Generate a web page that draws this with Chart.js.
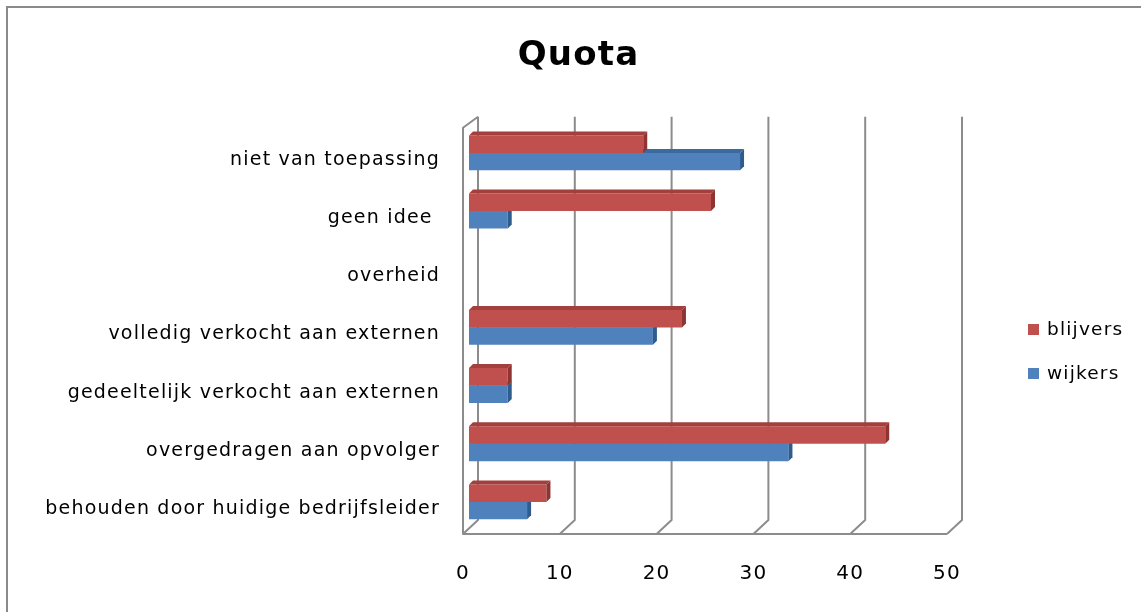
<!DOCTYPE html>
<html>
<head>
<meta charset="utf-8">
<title>Quota</title>
<script src="https://cdn.jsdelivr.net/npm/chart.js@4"></script>
<style>
    body { margin: 0; background: #fff; }
    #wrap { position: relative; width: 1141px; height: 612px; overflow: hidden; }
    #frame {
        position: absolute; left: 6px; top: 6px; right: 0; bottom: 0;
        border-left: 2px solid #8a8a8a; border-top: 2px solid #8a8a8a;
    }
    #myChart { position: absolute; left: 0; top: 0; }
    #legend {
        position: absolute; left: 1028px; top: 307px;
        font-family: "DejaVu Sans", sans-serif; font-size: 18.5px; color: #000;
        letter-spacing: 1.2px;
    }
    #legend div { height: 44px; line-height: 30px; display: flex; align-items: center; }
    #legend span.box { display: inline-block; width: 11px; height: 11px; margin-right: 8px; }
</style>
</head>
<body>
<div id="wrap">
    <div id="frame"></div>
    <canvas id="myChart" width="1141" height="612"></canvas>
    <div id="legend"></div>
</div>
<script>
const categories = [
    "niet van toepassing",
    "geen idee ",
    "overheid",
    "volledig verkocht aan externen",
    "gedeeltelijk verkocht aan externen",
    "overgedragen aan opvolger",
    "behouden door huidige bedrijfsleider"
];
const blijvers = [18, 25, 0, 22, 4, 43, 8];
const wijkers = [28, 4, 0, 19, 4, 33, 6];
const xTicks = [0, 10, 20, 30, 40, 50];

const RED = "#c0504d";
const BLUE = "#4f81bd";
const DARK = { [RED]: "#8e3533", [BLUE]: "#2f5c8f" };
const TOP = { [RED]: "#a33f3c", [BLUE]: "#3a6aa0" };
const FONT = "'DejaVu Sans', sans-serif";
const SPACING = "1.2px";

// fake 3d walls and grid behind the bars, plus depth faces on each bar
const wallPlugin = {
    id: "walls",
    beforeUpdate(chart) {
        chart.ctx.letterSpacing = SPACING;
    },
    beforeDraw(chart) {
        chart.ctx.letterSpacing = SPACING;
    },
    beforeDatasetsDraw(chart) {
        const ctx = chart.ctx;
        const xs = chart.scales.x;
        const area = chart.chartArea;
        const backTop = area.top - 7;
        const backBottom = area.bottom - 11;
        const frontBottom = area.bottom + 3;
        ctx.save();
        ctx.strokeStyle = "#8c8c8c";
        ctx.lineWidth = 2;
        ctx.lineJoin = "round";
        xTicks.forEach(v => {
            const bx = xs.getPixelForValue(v) + 9;
            ctx.beginPath();
            ctx.moveTo(bx, backTop);
            ctx.lineTo(bx, backBottom);
            ctx.lineTo(bx - 15, frontBottom);
            ctx.stroke();
        });
        const x0 = xs.getPixelForValue(xTicks[0]);
        const xN = xs.getPixelForValue(xTicks[xTicks.length - 1]);
        ctx.beginPath();
        ctx.moveTo(x0 + 9, backTop);
        ctx.lineTo(x0 - 6, area.top + 4);
        ctx.lineTo(x0 - 6, frontBottom);
        ctx.lineTo(xN - 6, frontBottom);
        ctx.stroke();
        ctx.restore();
    },
    afterDatasetDraw(chart, args) {
        const ctx = chart.ctx;
        const meta = args.meta;
        const color = meta.controller.getDataset().backgroundColor;
        const d = 4;
        ctx.save();
        meta.data.forEach(bar => {
            const p = bar.getProps(["x", "y", "base", "height"], true);
            if (Math.abs(p.x - p.base) < 0.5) return;
            const top = p.y - p.height / 2;
            const bottom = p.y + p.height / 2;
            ctx.fillStyle = TOP[color];
            ctx.beginPath();
            ctx.moveTo(p.base, top);
            ctx.lineTo(p.base + d, top - d);
            ctx.lineTo(p.x + d, top - d);
            ctx.lineTo(p.x, top);
            ctx.closePath();
            ctx.fill();
            ctx.fillStyle = DARK[color];
            ctx.beginPath();
            ctx.moveTo(p.x, top);
            ctx.lineTo(p.x + d, top - d);
            ctx.lineTo(p.x + d, bottom - d);
            ctx.lineTo(p.x, bottom);
            ctx.closePath();
            ctx.fill();
        });
        ctx.restore();
    }
};

const datasets = [
    { label: "blijvers", data: blijvers, backgroundColor: RED },
    { label: "wijkers", data: wijkers, backgroundColor: BLUE }
];

const chart = new Chart(document.getElementById("myChart"), {
    type: "bar",
    data: { labels: categories, datasets: datasets },
    options: {
        indexAxis: "y",
        responsive: false,
        animation: false,
        datasets: { bar: { barPercentage: 1, categoryPercentage: 0.6 } },
        layout: { padding: { left: 16, right: 0, top: 0, bottom: -5 } },
        plugins: {
            legend: { display: false },
            tooltip: { enabled: false },
            title: {
                display: true,
                text: "Quota",
                color: "#000",
                font: { family: FONT, size: 34, weight: "bold" },
                padding: { top: 36, bottom: 47 }
            }
        },
        scales: {
            x: {
                min: 0,
                max: 50,
                ticks: {
                    stepSize: 10,
                    color: "#000",
                    padding: 31,
                    labelOffset: -6,
                    font: { family: FONT, size: 20 }
                },
                grid: { display: false, drawTicks: false },
                border: { display: false }
            },
            y: {
                ticks: {
                    color: "#000",
                    padding: 29,
                    labelOffset: 7,
                    font: { family: FONT, size: 19 }
                },
                grid: { display: false, drawTicks: false },
                border: { display: false },
                afterFit(scale) {
                    scale.width = 453;
                }
            },
            // empty strip on the right that leaves room for the legend
            yRight: {
                position: "right",
                ticks: { display: false },
                grid: { display: false, drawTicks: false },
                border: { display: false },
                afterFit(scale) {
                    scale.width = 188;
                }
            }
        }
    },
    plugins: [wallPlugin]
});

// legend beside the plot
const legendBox = document.getElementById("legend");
datasets.forEach(ds => {
    const row = document.createElement("div");
    row.innerHTML = `<span class="box" style="background:${ds.backgroundColor}"></span>${ds.label}`;
    legendBox.appendChild(row);
});
</script>
</body>
</html>
